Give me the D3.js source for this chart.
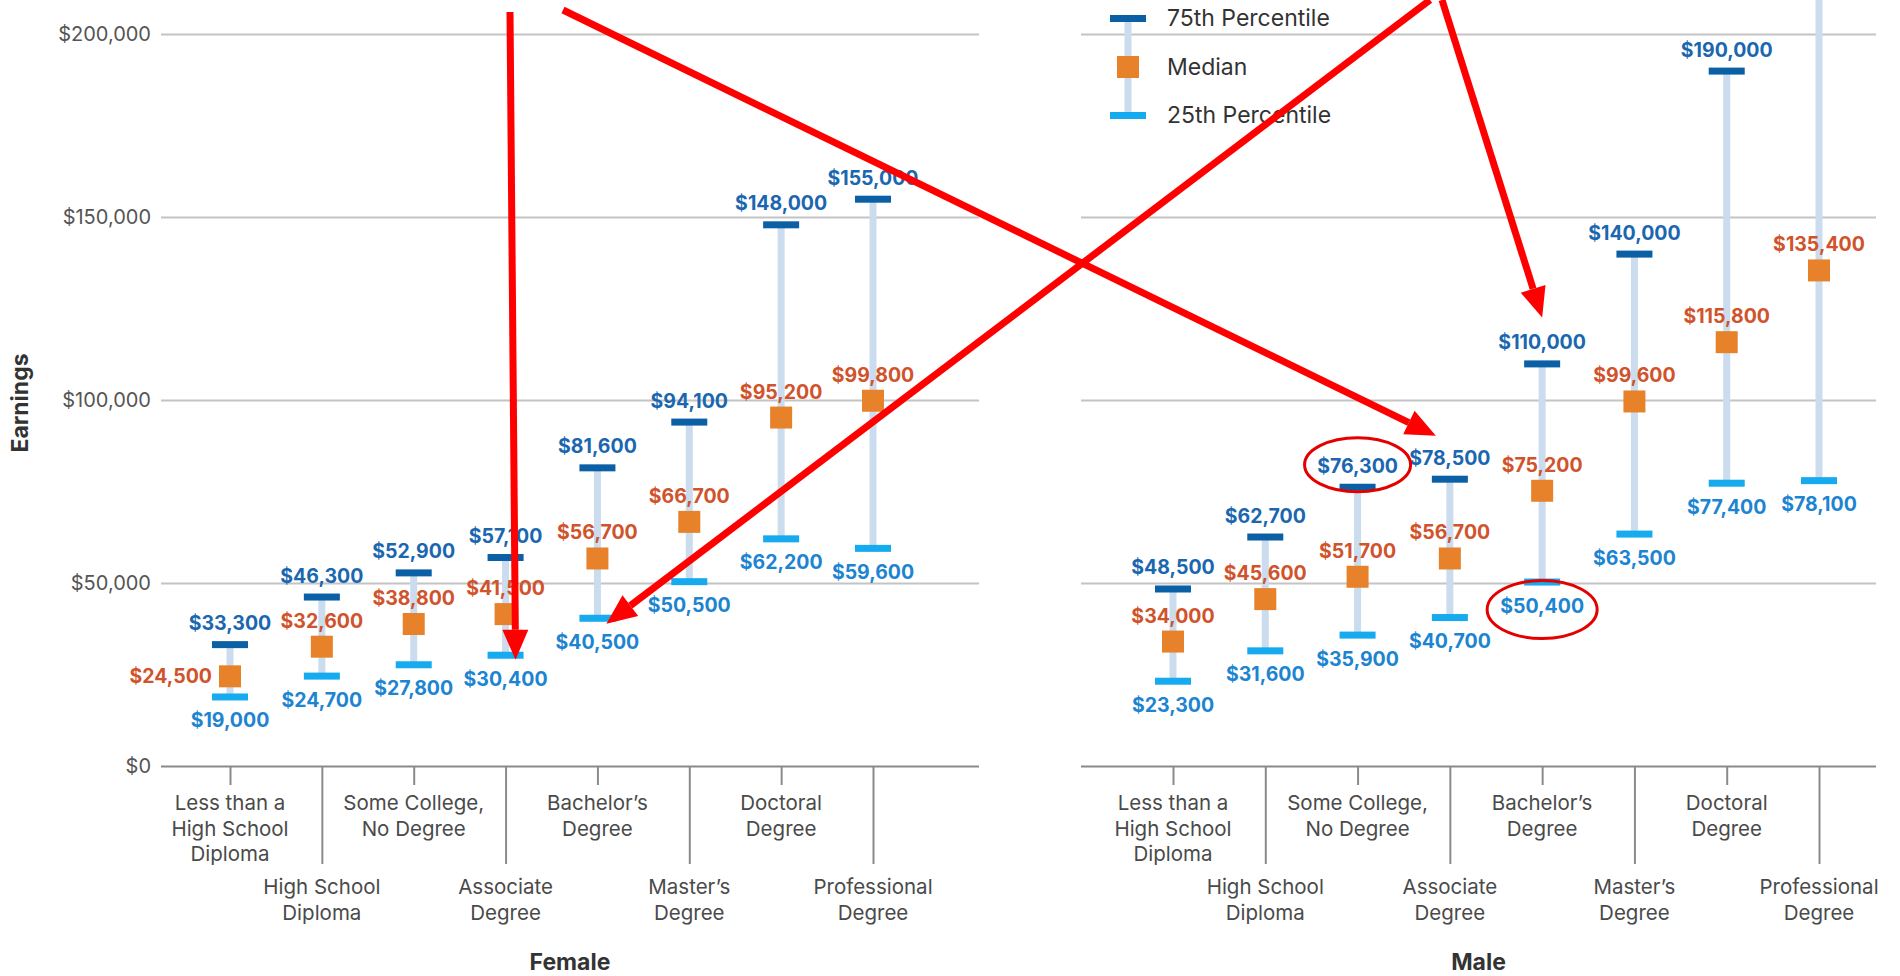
<!DOCTYPE html>
<meta charset="utf-8">
<style>
body { margin: 0; background: #fff; }
text { font-family: Inter, "Noto Sans", sans-serif; }
.grid line { stroke: #c4c4c4; stroke-width: 2px; }
.grid text { fill: #555; font-size: 20px; }
.xaxis line { stroke: #8a8a8a; stroke-width: 2px; }
.cat { fill: #4a4a4a; font-size: 20.5px; }
.val { font-size: 19.5px; font-weight: 700; }
.title { fill: #333; font-size: 23px; font-weight: 700; }
.legend text { fill: #333; font-size: 23px; }
</style>
<svg width="1900" height="976"></svg>
<script src="https://d3js.org/d3.v7.min.js"></script>
<script>
var svg = d3.select("svg");

// categories and their wrapped tick labels
var categories = ["Less than HS", "HS Diploma", "Some College", "Associate", "Bachelor", "Master", "Doctoral", "Professional"];
var categoryLines = [
  ["Less than a", "High School", "Diploma"],
  ["High School", "Diploma"],
  ["Some College,", "No Degree"],
  ["Associate", "Degree"],
  ["Bachelor\u2019s", "Degree"],
  ["Master\u2019s", "Degree"],
  ["Doctoral", "Degree"],
  ["Professional", "Degree"]
];

// earnings by percentile
var femaleP25    = [19000, 24700, 27800, 30400, 40500, 50500, 62200, 59600];
var femaleMedian = [24500, 32600, 38800, 41500, 56700, 66700, 95200, 99800];
var femaleP75    = [33300, 46300, 52900, 57100, 81600, 94100, 148000, 155000];

var maleP25    = [23300, 31600, 35900, 40700, 50400, 63500, 77400, 78100];
var maleMedian = [34000, 45600, 51700, 56700, 75200, 99600, 115800, 135400];
var maleP75    = [48500, 62700, 76300, 78500, 110000, 140000, 190000, 240000];

var yTicks = [0, 50000, 100000, 150000, 200000];

var colP75 = "#0b5fa5", colP25 = "#16aaee", colMed = "#e8822a", colWhisker = "#cbdcee";
var colLabP75 = "#1a67b0", colLabP25 = "#1c84d0", colLabMed = "#d0532b";

var fmt = d3.format("$,");

var y = d3.scaleLinear().domain([0, 200000]).range([766, 34]);

var panels = [
  { name: "Female", p25: femaleP25, med: femaleMedian, p75: femaleP75,
    x0: 161, x1: 979, r: [230, 873], yLabels: true, medLeft: [0] },
  { name: "Male", p25: maleP25, med: maleMedian, p75: maleP75,
    x0: 1081, x1: 1876, r: [1173, 1819], yLabels: false, medLeft: [] }
];

panels.forEach(function(p) {
  p.x = d3.scalePoint().domain(categories).range(p.r);

  // gridlines + y labels
  var g = svg.append("g").attr("class", "grid")
      .attr("transform", "translate(" + p.x0 + ",0)")
      .call(d3.axisLeft(y).tickValues(yTicks).tickSize(-(p.x1 - p.x0)).tickPadding(10)
        .tickFormat(p.yLabels ? fmt : ""));
  g.select(".domain").remove();
  g.selectAll(".tick").filter(function(d) { return d === 0; })
    .select("line").style("stroke", "#8a8a8a");

  // x axis ticks, alternating length
  var xa = svg.append("g").attr("class", "xaxis")
      .attr("transform", "translate(0," + y(0) + ")")
      .call(d3.axisBottom(p.x).tickSizeOuter(0).tickSizeInner(19).tickFormat(""));
  xa.select(".domain").remove();
  xa.selectAll(".tick line").attr("y2", function(d, i) { return i % 2 ? 98 : 19; });

  categories.forEach(function(c, i) {
    var t = svg.append("text").attr("class", "cat")
        .attr("text-anchor", "middle")
        .attr("x", p.x(c))
        .attr("y", i % 2 ? 894 : 810);
    categoryLines[i].forEach(function(line, j) {
      t.append("tspan").attr("x", p.x(c)).attr("dy", j ? 25.5 : 0).text(line);
    });
  });

  svg.append("text").attr("class", "title").attr("text-anchor", "middle")
    .attr("x", (p.x0 + p.x1) / 2).attr("y", 970).text(p.name);

  var rows = categories.map(function(c, i) {
    return { cat: c, i: i, p25: p.p25[i], med: p.med[i], p75: p.p75[i] };
  });
  var marks = svg.append("g");

  marks.selectAll(".whisker").data(rows).enter().append("line")
    .attr("x1", function(d) { return p.x(d.cat); })
    .attr("x2", function(d) { return p.x(d.cat); })
    .attr("y1", function(d) { return y(d.p25); })
    .attr("y2", function(d) { return y(d.p75); })
    .attr("stroke", colWhisker).attr("stroke-width", 7);

  marks.selectAll(".cap75").data(rows).enter().append("rect")
    .attr("x", function(d) { return p.x(d.cat) - 18; })
    .attr("y", function(d) { return y(d.p75) - 3; })
    .attr("width", 36).attr("height", 7).attr("fill", colP75);

  marks.selectAll(".cap25").data(rows).enter().append("rect")
    .attr("x", function(d) { return p.x(d.cat) - 18; })
    .attr("y", function(d) { return y(d.p25) - 3; })
    .attr("width", 36).attr("height", 7).attr("fill", colP25);

  marks.selectAll(".med").data(rows).enter().append("rect")
    .attr("x", function(d) { return p.x(d.cat) - 11; })
    .attr("y", function(d) { return y(d.med) - 11; })
    .attr("width", 22).attr("height", 22).attr("fill", colMed);

  // 75th labels (skip the one that runs off the top, as in the source)
  marks.selectAll(".l75").data(rows.filter(function(d) { return y(d.p75) - 14 > 20; }))
    .enter().append("text").attr("class", "val")
    .attr("text-anchor", "middle").attr("fill", colLabP75)
    .attr("x", function(d) { return p.x(d.cat); })
    .attr("y", function(d) { return y(d.p75) - 14; })
    .text(function(d) { return fmt(d.p75); });

  marks.selectAll(".l25").data(rows).enter().append("text").attr("class", "val")
    .attr("text-anchor", "middle").attr("fill", colLabP25)
    .attr("x", function(d) { return p.x(d.cat); })
    .attr("y", function(d) { return y(d.p25) + 31; })
    .text(function(d) { return fmt(d.p25); });

  marks.selectAll(".lmed").data(rows).enter().append("text").attr("class", "val")
    .attr("fill", colLabMed)
    .attr("text-anchor", function(d) { return p.medLeft.indexOf(d.i) >= 0 ? "end" : "middle"; })
    .attr("x", function(d) { return p.medLeft.indexOf(d.i) >= 0 ? p.x(d.cat) - 18 : p.x(d.cat); })
    .attr("y", function(d) { return p.medLeft.indexOf(d.i) >= 0 ? y(d.med) + 7 : y(d.med) - 19; })
    .text(function(d) { return fmt(d.med); });
});

// y axis title
svg.append("text").attr("class", "title")
  .attr("transform", "translate(28,403) rotate(-90)")
  .attr("text-anchor", "middle").text("Earnings");

// legend
var lg = svg.append("g").attr("class", "legend");
var lx = 1128;
var legendRows = [
  { label: "75th Percentile", y: 18 },
  { label: "Median", y: 67 },
  { label: "25th Percentile", y: 115 }
];
lg.append("line").attr("x1", lx).attr("x2", lx).attr("y1", 18).attr("y2", 115)
  .attr("stroke", colWhisker).attr("stroke-width", 7);
lg.append("rect").attr("x", lx - 18).attr("y", 15).attr("width", 36).attr("height", 7).attr("fill", colP75);
lg.append("rect").attr("x", lx - 11).attr("y", 56).attr("width", 22).attr("height", 22).attr("fill", colMed);
lg.append("rect").attr("x", lx - 18).attr("y", 112).attr("width", 36).attr("height", 7).attr("fill", colP25);
lg.selectAll("text").data(legendRows).enter().append("text")
  .attr("x", 1167).attr("y", function(d) { return d.y + 8; }).text(function(d) { return d.label; });

// red annotations: arrows and circles pinned to data points
var arrows = [
  { from: [510, 12],  panel: 0, i: 3, key: "p25", dx: 10,  dy: 5 },
  { from: [563, 10],  panel: 1, i: 3, key: "p75", dx: -14, dy: -43 },
  { from: [1430, 0],  panel: 0, i: 4, key: "p25", dx: 9,   dy: 6 },
  { from: [1442, 0],  panel: 1, i: 4, key: "p75", dx: 0,   dy: -46 }
];
var circles = [
  { panel: 1, i: 2, key: "p75", dy: -22, rx: 53, ry: 27 },
  { panel: 1, i: 4, key: "p25", dy: 28,  rx: 55, ry: 29 }
];
var ann = svg.append("g");
arrows.forEach(function(a) {
  var p = panels[a.panel];
  var tx = p.x(categories[a.i]) + a.dx, ty = y(p[a.key][a.i]) + a.dy;
  var vx = tx - a.from[0], vy = ty - a.from[1], len = Math.sqrt(vx * vx + vy * vy);
  var ux = vx / len, uy = vy / len, hl = 30, hw = 13;
  var bx = tx - ux * hl, by = ty - uy * hl;
  ann.append("line").attr("x1", a.from[0]).attr("y1", a.from[1]).attr("x2", bx).attr("y2", by)
    .attr("stroke", "#ff0000").attr("stroke-width", 7);
  ann.append("polygon")
    .attr("points", [[tx, ty], [bx - uy * hw, by + ux * hw], [bx + uy * hw, by - ux * hw]].join(" "))
    .attr("fill", "#ff0000");
});
circles.forEach(function(c) {
  var p = panels[c.panel];
  ann.append("ellipse").attr("cx", p.x(categories[c.i])).attr("cy", y(p[c.key][c.i]) + c.dy)
    .attr("rx", c.rx).attr("ry", c.ry).attr("fill", "none")
    .attr("stroke", "#e50000").attr("stroke-width", 3);
});
</script>
